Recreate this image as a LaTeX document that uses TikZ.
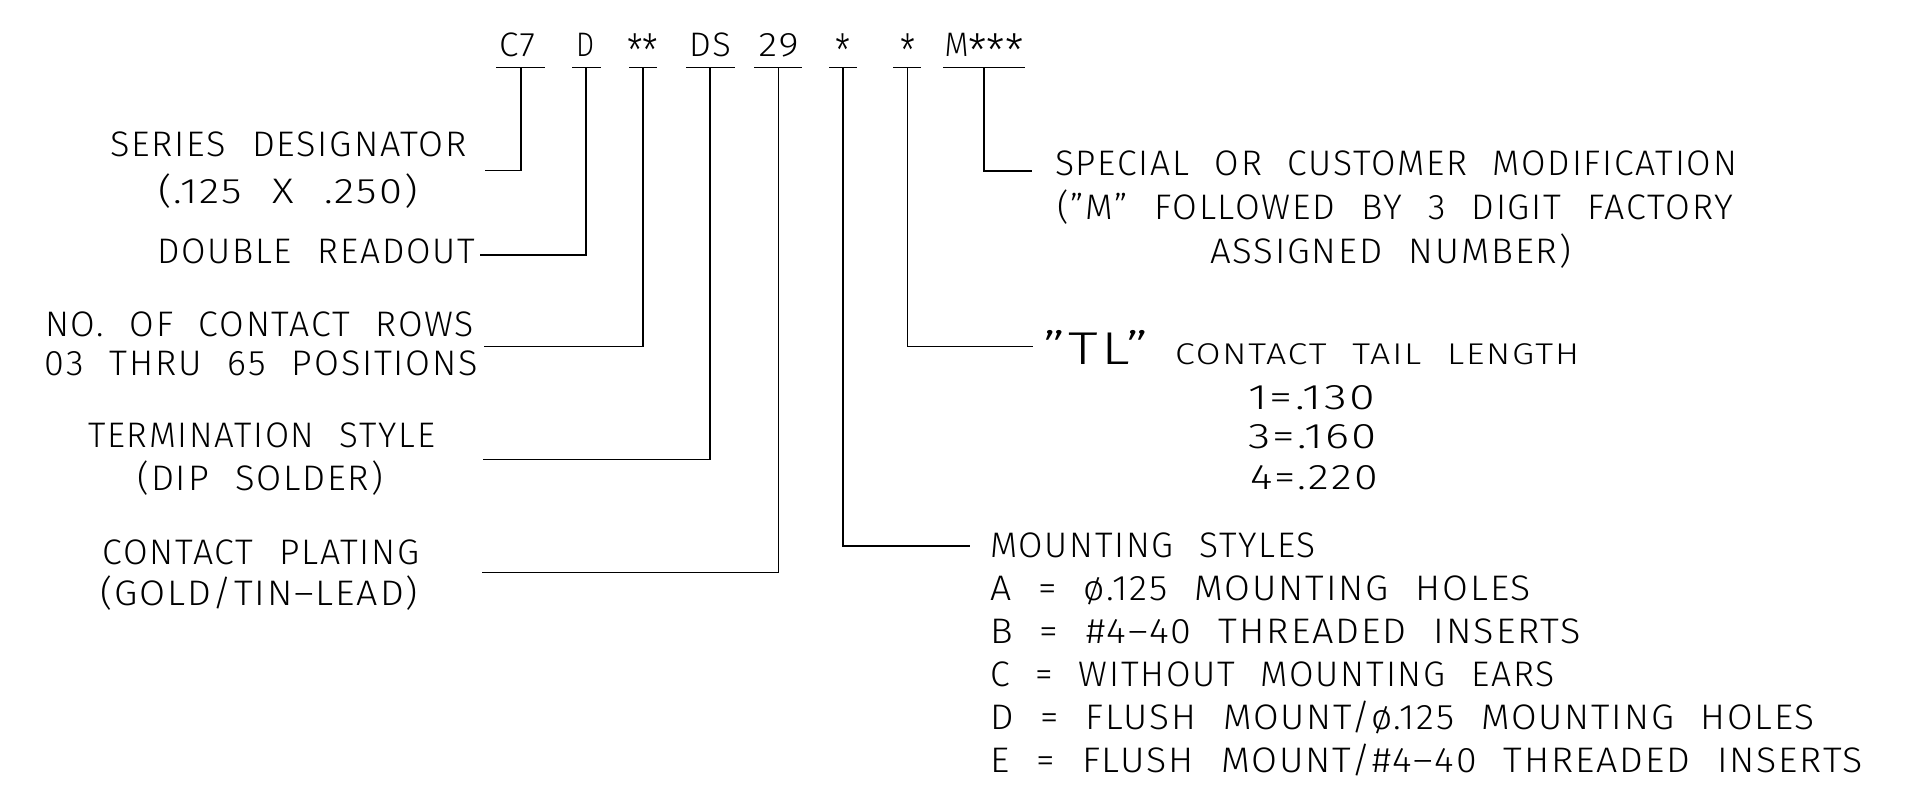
\documentclass[tikz,border=0pt]{standalone}
\usepackage{fontspec}
\usepackage{graphicx}
\newfontfamily\cadfont{Fira Sans Light}[WordSpace=2.2,LetterSpace=5]
\newcommand\cadtxt[3]{{\fontsize{#1pt}{#1pt}\cadfont\resizebox{#2pt}{\height}{#3}}}
\newcommand\cadast{\raisebox{-0.3em}{\scalebox{1.35}{*}}}
\begin{document}
\begin{tikzpicture}[x=1pt,y=-1pt,
  lbl/.style={anchor=base west,inner sep=0pt,outer sep=0pt},
  wire/.style={line width=1.5pt,line cap=rect,line join=miter}]
\fill[white] (0,0) rectangle (1907,810);
\useasboundingbox (0,0) rectangle (1907,810);

% code characters
\node[lbl] (kC7) at (499,57) {\cadtxt{34}{36}{C7}};
\node[lbl] (kD) at (576,57) {\cadtxt{34}{18}{D}};
\node[lbl] (kRW) at (627,57) {\cadtxt{34}{31}{\cadast\cadast}};
\node[lbl] (kDS) at (689,57) {\cadtxt{34}{42}{DS}};
\node[lbl] (kP) at (758.5,57) {\cadtxt{34}{40}{29}};
\node[lbl] (kMS) at (835,57) {\cadtxt{34}{15}{\cadast}};
\node[lbl] (kTL) at (900,57) {\cadtxt{34}{15}{\cadast}};
\node[lbl] (kMX) at (944.5,57) {\cadtxt{34}{79}{M\cadast\cadast\cadast}};

% underline coordinates
\foreach \n/\a/\b/\v in {C7/496.7/544/521, D/572.7/600/586, RW/629.3/656.7/643,
  DS/686.7/734/710, P/755/801.7/778.5, MS/829.3/856.7/843, TL/893.3/920.7/907.5,
  MX/944/1024/984}{
  \coordinate (ul\n w) at (\a,67.5);
  \coordinate (ul\n e) at (\b,67.5);
  \coordinate (ul\n) at (\v,67.5);
}
\foreach \n in {C7,D,RW,DS,P,MS,TL,MX}{
  \draw[wire] (ul\n w) -- (ul\n e);
}

% connector ends
\coordinate (eC7) at (486,170.5);
\coordinate (eD) at (481,255);
\coordinate (eRW) at (485,346.7);
\coordinate (eDS) at (484,459.5);
\coordinate (eP) at (483,572.5);
\coordinate (eMS) at (969,546);
\coordinate (eTL) at (1032,346.7);
\coordinate (eMX) at (1031,171);

\foreach \n in {C7,D,RW,DS,P,MS,TL,MX}{
  \draw[wire] (ul\n) |- (e\n);
}

% left descriptions
\node[lbl] (sd1) at (110,157) {\cadtxt{35.5}{357}{SERIES DESIGNATOR}};
\node[lbl] (sd2) at (158,204) {\cadtxt{35.5}{260}{(.125 X .250)}};
\node[lbl] (dr) at (157,264) {\cadtxt{35.5}{318}{DOUBLE READOUT}};
\node[lbl] (nc1) at (45,337) {\cadtxt{35.5}{429}{NO. OF CONTACT ROWS}};
\node[lbl] (nc2) at (45,376) {\cadtxt{35.5}{433}{03 THRU 65 POSITIONS}};
\node[lbl] (ts1) at (88,447) {\cadtxt{35.5}{347}{TERMINATION STYLE}};
\node[lbl] (ts2) at (137.5,490) {\cadtxt{35.5}{245.5}{(DIP SOLDER)}};
\node[lbl] (cp1) at (102.5,564) {\cadtxt{35.5}{317}{CONTACT PLATING}};
\node[lbl] (cp2) at (100,605) {\cadtxt{35.5}{318}{(GOLD/TIN–LEAD)}};

% right descriptions
\node[lbl] (sm1) at (1055,176) {\cadtxt{35.5}{682}{SPECIAL OR CUSTOMER MODIFICATION}};
\node[lbl] (sm2) at (1057,220) {\cadtxt{35.5}{676}{(”M” FOLLOWED BY 3 DIGIT FACTORY}};
\node[lbl] (sm3) at (1210,264) {\cadtxt{35.5}{361}{ASSIGNED NUMBER)}};
\node[lbl] (tl0) at (1043,364) {\cadtxt{46}{106}{”TL”}};
\node[lbl] (tl1) at (1175,364) {\cadtxt{30}{404}{CONTACT TAIL LENGTH}};
\node[lbl] (tl2) at (1248,409) {\cadtxt{35.5}{127}{1=.130}};
\node[lbl] (tl3) at (1248,448) {\cadtxt{35.5}{129}{3=.160}};
\node[lbl] (tl4) at (1250,489) {\cadtxt{35.5}{128}{4=.220}};
\node[lbl] (ms0) at (990,557) {\cadtxt{35.5}{326}{MOUNTING STYLES}};
\node[lbl] (msA) at (990,600) {\cadtxt{35.5}{541}{A = ø.125 MOUNTING HOLES}};
\node[lbl] (msB) at (990,643) {\cadtxt{35.5}{591}{B = \#4–40 THREADED INSERTS}};
\node[lbl] (msC) at (990,686) {\cadtxt{35.5}{565}{C = WITHOUT MOUNTING EARS}};
\node[lbl] (msD) at (990,729) {\cadtxt{35.5}{825}{D = FLUSH MOUNT/ø.125 MOUNTING HOLES}};
\node[lbl] (msE) at (990,772) {\cadtxt{35.5}{873}{E = FLUSH MOUNT/\#4–40 THREADED INSERTS}};
\end{tikzpicture}
\end{document}
